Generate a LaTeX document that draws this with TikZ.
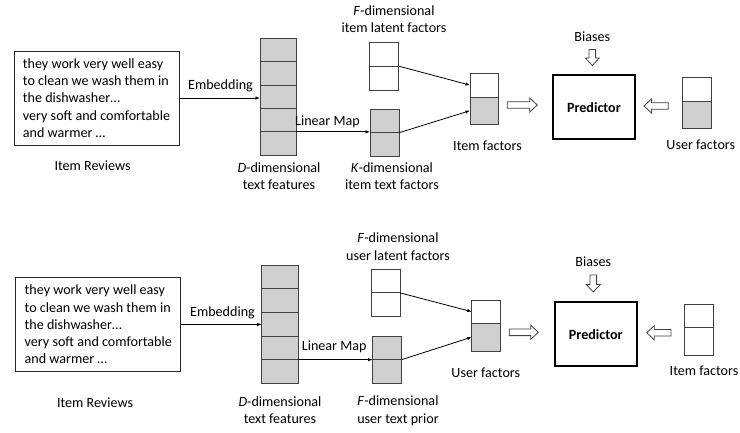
\documentclass[tikz,border=0pt]{standalone}
\usepackage{fontspec}
\setmainfont{Carlito}
\usetikzlibrary{arrows.meta,calc}
\definecolor{gr}{HTML}{D0D0D0}
\definecolor{bd}{HTML}{404040}
\newcommand\myfs{\fontsize{14.1}{17.3}\selectfont}
\begin{document}
\begin{tikzpicture}[x=1pt,y=-1pt,
  every node/.style={font=\myfs, inner sep=0pt, outer sep=0pt},
  lbl/.style={align=center},
  cell/.style 2 args={draw=bd, line width=0.8pt, minimum width=#1, minimum height=#2},
  revbox/.style={draw=black!85, line width=0.8pt, align=left, inner xsep=6pt, minimum width=165pt, minimum height=94pt},
  pred/.style={draw=black, line width=1.9pt, font=\myfs\bfseries},
  arr/.style={line width=0.8pt, -{Latex[length=4.5pt,width=3.4pt]}},
  hol/.style={draw=bd, line width=0.8pt, fill=white},
  pics/harrow/.style={code={\draw[hol] (0,-3.3) -- (#1-7.5,-3.3) -- (#1-7.5,-7) -- (#1,0) -- (#1-7.5,7) -- (#1-7.5,3.3) -- (0,3.3) -- cycle;}}
]
\fill[white] (0,0) rectangle (740,432);
\useasboundingbox (0,0) rectangle (740,432);

% ================= top panel =================
\node[revbox] (rev1) at (96.5,98) {they work very well easy\\to clean we wash them in\\the dishwasher…\\very soft and comfortable\\and warmer …};
\node[lbl] (revl1) at (92.5,166) {Item Reviews};

\foreach \i/\y in {1/49.97,2/73.37,3/96.77,4/120.17,5/143.57}
  \node[cell={36pt}{23.4pt}, fill=gr] (d1\i) at (278,\y) {};
\node[lbl] (dl1) at (279,176.5) {\textit{D}-dimensional\\text features};

\node[cell={29.4pt}{23.85pt}, fill=white] (f11) at (384,54.2) {};
\node[cell={29.4pt}{23.85pt}, fill=white] (f12) at (384,78.05) {};
\node[lbl] (fl1) at (394,19.2) {\textit{F}-dimensional\\item latent factors};

\node[cell={29.3pt}{23.35pt}, fill=gr] (k11) at (384.7,120.98) {};
\node[cell={29.3pt}{23.35pt}, fill=gr] (k12) at (384.7,144.33) {};
\node[lbl] (kl1) at (392,176.5) {\textit{K}-dimensional\\item text factors};

\node[cell={28.3pt}{23.7pt}, fill=white] (if11) at (484.2,85.15) {};
\node[cell={28.3pt}{27.3pt}, fill=gr] (if12) at (484.2,110.65) {};
\node[lbl] (ifl1) at (487.5,145.7) {Item factors};

\node[pred, minimum width=82.3pt, minimum height=64.3pt] (pr1) at (593.9,107.2) {Predictor};
\node[lbl] (bi1) at (592.3,36.7) {Biases};

\node[cell={28.7pt}{23.3pt}, fill=white] (uf11) at (696.7,89.35) {};
\node[cell={28.7pt}{27.3pt}, fill=gr] (uf12) at (696.7,114.65) {};
\node[lbl] (ufl1) at (700.8,145) {User factors};

\node[lbl] (em1) at (220.5,86) {Embedding};
\node[lbl] (lm1) at (327.5,121.7) {Linear Map};

\draw[arr] (rev1.east) -- (rev1.east -| d13.west);
\draw[arr] (d14.south east) -- (d14.south east -| k11.west);
\draw[arr] (f11.south east) -- (if11.west);
\draw[arr] (k11.south east) -- (if12.west);
\pic (ha1) at (507.3,105) {harrow=30};
\pic[rotate=-90] (hb1) at (592.3,49.5) {harrow=16};
\pic[rotate=180] (hc1) at (668.3,106) {harrow=24.3};

% ================= bottom panel =================
\node[revbox] (rev2) at (98.3,324.5) {they work very well easy\\to clean we wash them in\\the dishwasher…\\very soft and comfortable\\and warmer …};
\node[lbl] (revl2) at (95,402.3) {Item Reviews};

\foreach \i/\y in {1/276.83,2/300.49,3/324.15,4/347.81,5/371.47}
  \node[cell={36.6pt}{23.66pt}, fill=gr] (d2\i) at (280,\y) {};
\node[lbl] (dl2) at (280,410) {\textit{D}-dimensional\\text features};

\node[cell={28.3pt}{23.85pt}, fill=white] (f21) at (385.8,280.9) {};
\node[cell={28.3pt}{23.85pt}, fill=white] (f22) at (385.8,304.75) {};
\node[lbl] (fl2) at (398,246.7) {\textit{F}-dimensional\\user latent factors};

\node[cell={29pt}{23.65pt}, fill=gr] (p21) at (387.2,347.8) {};
\node[cell={29pt}{23.65pt}, fill=gr] (p22) at (387.2,371.45) {};
\node[lbl] (pl2) at (398,410.8) {\textit{F}-dimensional\\user text prior};

\node[cell={28.3pt}{23.3pt}, fill=white] (uf21) at (485.8,311.65) {};
\node[cell={28.3pt}{27.7pt}, fill=gr] (uf22) at (485.8,337.15) {};
\node[lbl] (ufl2) at (485.8,372.3) {User factors};

\node[pred, minimum width=81.7pt, minimum height=63.7pt] (pr2) at (595.8,334.2) {Predictor};
\node[lbl] (bi2) at (593.3,261.7) {Biases};

\node[cell={29pt}{23.4pt}, fill=white] (if21) at (698.8,316) {};
\node[cell={29pt}{28pt}, fill=white] (if22) at (698.8,341.7) {};
\node[lbl] (ifl2) at (704,370.7) {Item factors};

\node[lbl] (em2) at (222.5,312.7) {Embedding};
\node[lbl] (lm2) at (334.2,346.7) {Linear Map};

\draw[arr] (rev2.east) -- (rev2.east -| d23.west);
\draw[arr] (d24.south east) -- (d24.south east -| p21.west);
\draw[arr] (f21.south east) -- (uf21.west);
\draw[arr] (p21.south east) -- (uf22.west);
\pic (ha2) at (509.3,332.3) {harrow=29};
\pic[rotate=-90] (hb2) at (593.3,275) {harrow=17};
\pic[rotate=180] (hc2) at (671,332.7) {harrow=24.3};
\end{tikzpicture}
\end{document}
